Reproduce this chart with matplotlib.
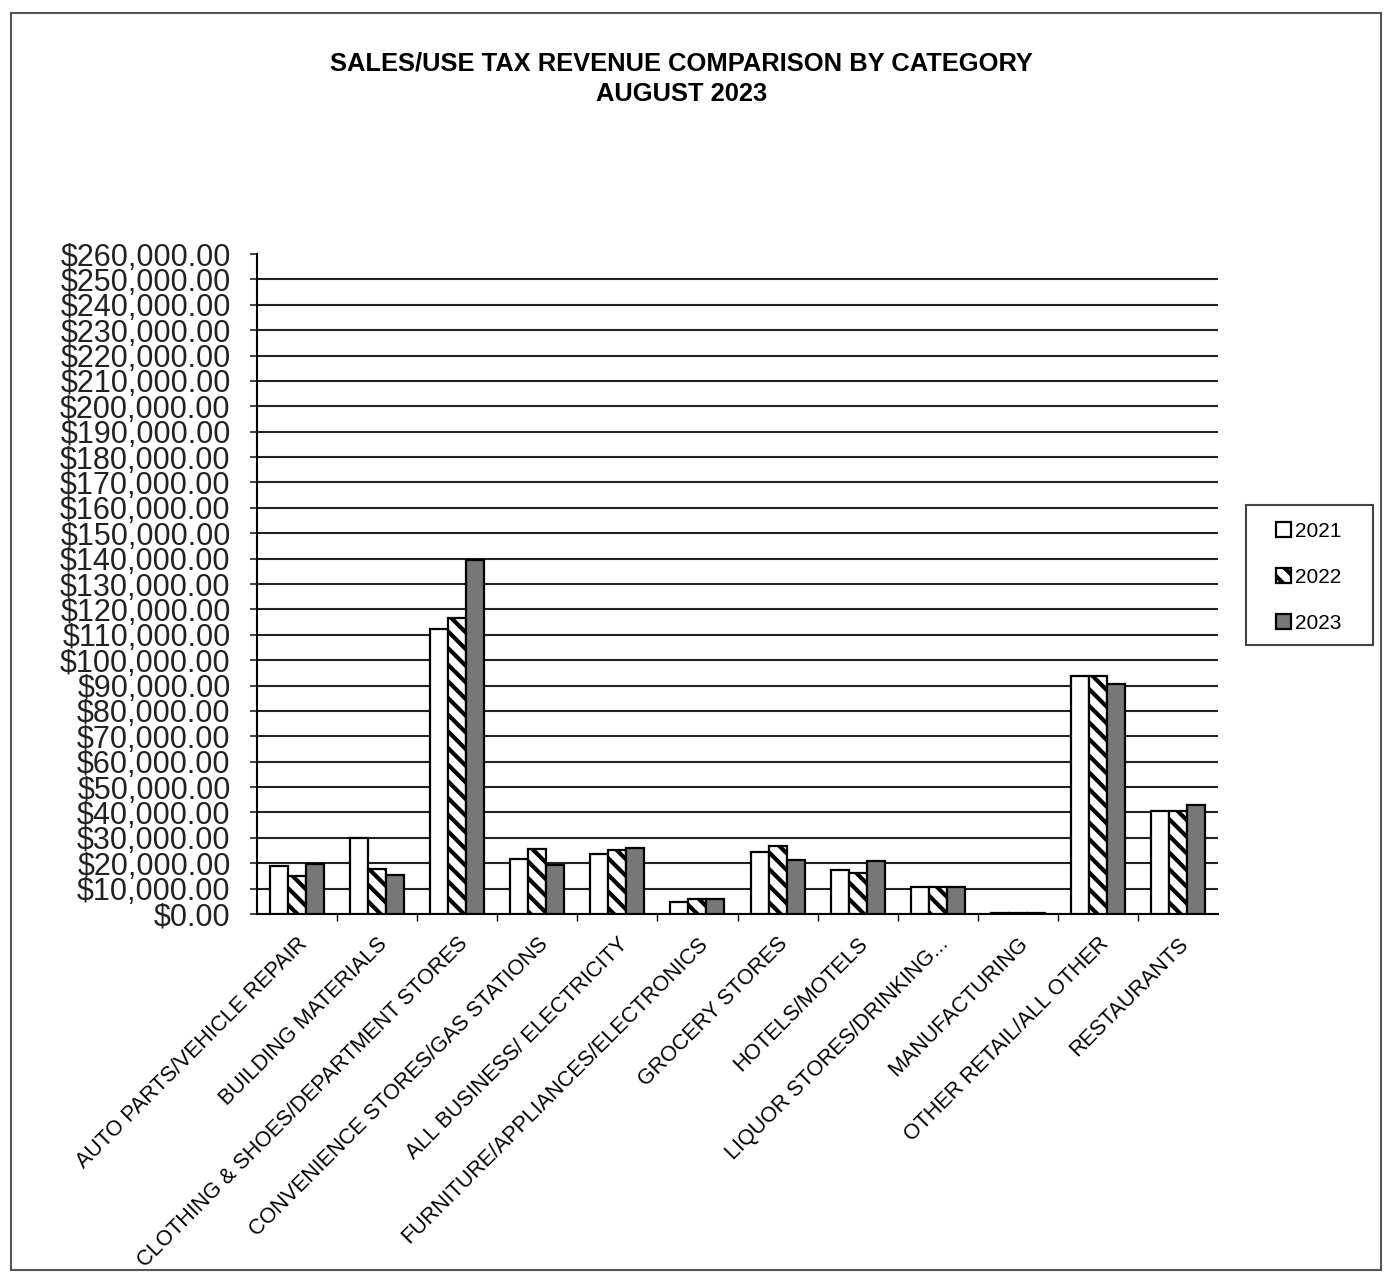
import matplotlib
matplotlib.use('Agg')
from matplotlib import pyplot as plt
from matplotlib.patches import Rectangle
from matplotlib.ticker import FuncFormatter
import numpy as np

plt.rcParams['font.family'] = ['Liberation Sans', 'DejaVu Sans']
plt.rcParams['hatch.linewidth'] = 3.0

# data
categories = ['AUTO PARTS/VEHICLE REPAIR', 'BUILDING MATERIALS',
              'CLOTHING & SHOES/DEPARTMENT STORES', 'CONVENIENCE STORES/GAS STATIONS',
              'ALL BUSINESS/ ELECTRICITY', 'FURNITURE/APPLIANCES/ELECTRONICS',
              'GROCERY STORES', 'HOTELS/MOTELS', 'LIQUOR STORES/DRINKING...',
              'MANUFACTURING', 'OTHER RETAIL/ALL OTHER', 'RESTAURANTS']
years = ['2021', '2022', '2023']
sales_2021 = [18800, 30000, 112300, 21800, 23800, 4800, 24600, 17500, 10500, 300, 93800, 40400]
sales_2022 = [15000, 17800, 116700, 25700, 25300, 6100, 26700, 16000, 10500, 300, 93800, 40400]
sales_2023 = [19800, 15300, 139300, 19300, 26100, 6100, 21300, 21000, 10600, 300, 90800, 43100]
y_ticks = np.arange(0, 260001, 10000)

fig = plt.figure(figsize=(13.91, 12.76), dpi=100)
ax = fig.add_axes([0.1848, 0.2837, 0.6908, 0.5172])

# outer frame of the scanned chart
fig.patches.append(Rectangle((0.008, 0.005), 0.985, 0.985, transform=fig.transFigure,
                             fill=False, edgecolor='#555555', linewidth=1.5))

x = np.arange(len(categories))
w = 0.225
ax.bar(x - w, sales_2021, w, color='white', edgecolor='black', linewidth=1.6, label=years[0], zorder=3)
ax.bar(x, sales_2022, w, color='white', edgecolor='black', linewidth=1.6, hatch='\\\\', label=years[1], zorder=3)
ax.bar(x + w, sales_2023, w, color='#777777', edgecolor='black', linewidth=1.6, label=years[2], zorder=3)

ax.set_xlim(-0.5, len(categories) - 0.5)
ax.set_ylim(0, 260000)
ax.set_yticks(y_ticks)
ax.yaxis.set_major_formatter(FuncFormatter(lambda v, p: '${:,.2f}'.format(v)))
ax.yaxis.grid(True, color='#222222', linewidth=1.5)
ax.get_ygridlines()[-1].set_visible(False)
ax.set_axisbelow(True)

ax.tick_params(axis='y', labelsize=22, length=5, width=1.2, pad=14, colors='#222222')
ax.set_xticks(x)
ax.set_xticklabels(categories, rotation=45, ha='right', rotation_mode='anchor', fontsize=15.5)
ax.tick_params(axis='x', length=0, pad=14)
ax.set_xticks(x[:-1] + 0.5, minor=True)
ax.tick_params(axis='x', which='minor', length=5, width=1)

for s in ['top', 'right']:
    ax.spines[s].set_visible(False)
ax.spines['left'].set_linewidth(1.5)
ax.spines['bottom'].set_linewidth(1.5)

fig.text(0.49, 0.950, 'SALES/USE TAX REVENUE COMPARISON BY CATEGORY', ha='center', va='center',
         fontsize=18.4, fontweight='bold')
fig.text(0.49, 0.926, 'AUGUST 2023', ha='center', va='center', fontsize=18.4, fontweight='bold')

leg = fig.legend(loc='center', bbox_to_anchor=(0.9410, 0.5475), fontsize=15, frameon=False,
                 handlelength=0.7, handleheight=0.7, handletextpad=0.2, labelspacing=1.3,
                 borderpad=0.3)
fig.patches.append(Rectangle((1246 / 1391, 1 - 645 / 1276), 127 / 1391, 140 / 1276,
                             transform=fig.transFigure, fill=False, edgecolor='#444444',
                             linewidth=1.5))

fig.savefig('out.png', dpi=100)
